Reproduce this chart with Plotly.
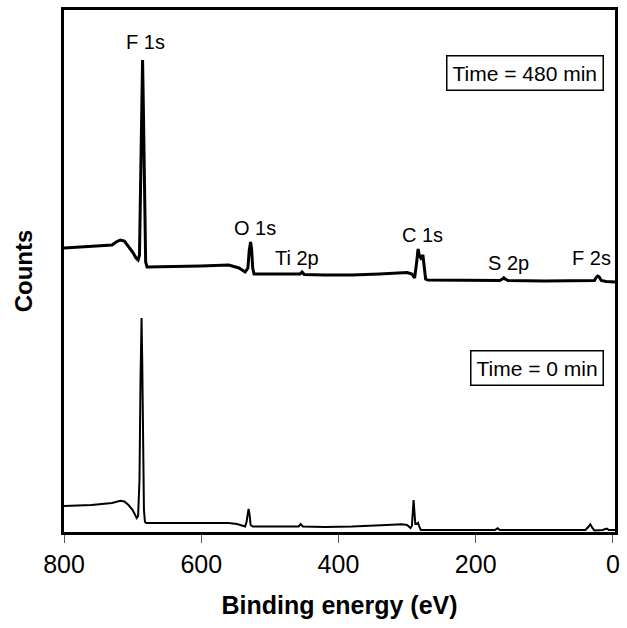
import plotly.graph_objects as go

# Binding energy (eV) and counts (arbitrary units)
be_480 = [800, 780, 760, 740, 730, 724, 718, 712, 706, 700, 695, 692, 690, 688, 686.5, 685.5,
          684.5, 683, 681, 679, 670, 640, 600, 560, 545, 536, 532, 530, 528, 526.5, 525, 523,
          500, 470, 456, 453, 450, 420, 380, 340, 320, 300, 293, 289, 286, 284, 282, 280, 277,
          275, 273, 270, 240, 200, 165, 161, 159, 157, 153, 100, 40, 27, 24, 22, 20, 17, 10, 0, -3]
counts_480 = [284, 285, 286, 286.5, 287, 290, 292, 291, 286, 280, 274, 272, 277, 382, 462, 472,
              432, 332, 270, 265, 265, 265.5, 266, 267, 264, 260, 264, 282, 290, 282, 264, 258,
              258, 257.5, 258, 260, 257.5, 257, 257, 258, 259, 259.5, 258, 254, 270, 283, 276, 274, 277,
              267, 253, 252, 252, 251.5, 251.5, 253, 254.3, 253, 251.5, 251, 251, 251.5, 255, 256, 255, 251.5, 250.5, 250, 250]

be_0 = [800, 760, 730, 724, 718, 712, 706, 700, 696, 694, 692, 690, 688.5, 687.5, 687, 686, 685,
        683.5, 682, 680, 600, 560, 548, 540, 536, 534, 532, 531, 529.5, 528, 525, 480, 458, 455,
        452, 420, 380, 330, 308, 300, 295, 293, 291.5, 290.5, 289.5, 288, 286, 284, 282, 280, 200,
        172, 168, 165, 100, 40, 36, 33, 30, 27, 15, 12, 9, 6, 0, -3]
counts_0 = [26, 27, 29, 30, 31.3, 30.5, 27, 22, 16, 14, 16, 52, 152, 207, 214, 172, 92,
            22, 10, 9, 9, 9, 8, 6, 5.5, 10, 20, 23, 17, 7, 5.5, 5, 5.5, 8,
            5.5, 5, 5.5, 7, 7.7, 7, 4, 6, 22, 32, 22, 8, 8, 9.3, 5, 2, 2,
            2, 3.7, 2, 2, 2, 5, 7.7, 4, 1.5, 2, 3, 3.5, 2, 2, 2]

peak_labels = ["F 1s", "O 1s", "Ti 2p", "C 1s", "S 2p", "F 2s"]
label_be = [680.6, 521.7, 460.6, 277.7, 151.6, 30.8]
label_counts = [490, 304, 274, 297, 269, 274]

time_labels = ["Time = 480 min", "Time = 0 min"]

FONT = "Liberation Sans, Arial, sans-serif"

fig = go.Figure()
fig.add_trace(go.Scatter(x=be_480, y=counts_480, mode="lines",
                         line=dict(color="black", width=3), name=time_labels[0]))
fig.add_trace(go.Scatter(x=be_0, y=counts_0, mode="lines",
                         line=dict(color="black", width=2), name=time_labels[1]))

for t, bx, cy in zip(peak_labels, label_be, label_counts):
    fig.add_annotation(x=bx, y=cy, text=t, showarrow=False, xref="x", yref="y",
                       font=dict(family=FONT, size=20, color="black"))

for t, py in zip(time_labels, [0.880, 0.314]):
    fig.add_annotation(x=0.98, y=py, xref="paper", yref="paper", text=t, showarrow=False,
                       xanchor="right", yanchor="middle",
                       font=dict(family=FONT, size=21, color="black"),
                       bordercolor="black", borderwidth=1.5, borderpad=5, bgcolor="white")

fig.update_layout(
    width=627, height=628,
    margin=dict(l=64, r=7, t=10, b=96),
    paper_bgcolor="white", plot_bgcolor="white",
    showlegend=False,
    font=dict(family=FONT, color="black"),
)
fig.update_xaxes(range=[800, -3], tickvals=[800, 600, 400, 200, 0],
                 ticks="outside", ticklen=8, tickwidth=1, tickcolor="#555",
                 tickfont=dict(family=FONT, size=25, color="black"),
                 showline=True, linewidth=3, linecolor="black", mirror=True,
                 showgrid=False, zeroline=False,
                 title=dict(text="<b>Binding energy (eV)</b>", standoff=20,
                            font=dict(family=FONT, size=25, color="black")))
fig.update_yaxes(range=[0, 522], showticklabels=False, ticks="",
                 showline=True, linewidth=3, linecolor="black", mirror=True,
                 showgrid=False, zeroline=False,
                 title=dict(text="<b>Counts</b>", standoff=22,
                            font=dict(family=FONT, size=24, color="black")))

fig.write_html("out.html",
               config={"displayModeBar": False},
               post_script="document.body.style.margin='0';document.body.style.overflow='hidden';")
